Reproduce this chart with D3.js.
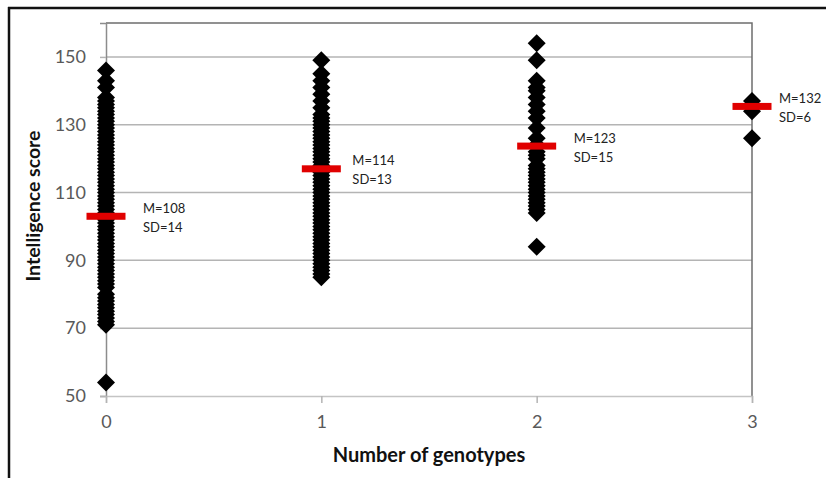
<!DOCTYPE html>
<html>
<head>
<meta charset="utf-8">
<script src="https://cdn.jsdelivr.net/npm/d3@7"></script>
<style>
  html, body { margin: 0; padding: 0; background: #fff; }
  svg { display: block; font-family: Lato, "Open Sans", sans-serif; }
</style>
</head>
<body>
<div id="chart"></div>
<script>
// ---- Data ----
const genotypes = [0, 1, 2, 3];

const scores0 = [54,
  71, 72, 73, 74, 75, 76, 77, 78, 79, 80, 82, 83, 84, 85, 86, 87, 88, 89, 90,
  91, 92, 93, 94, 95, 96, 97, 98, 99, 100, 101, 102, 103, 104, 105, 106, 107, 108, 109, 110,
  111, 112, 113, 114, 115, 116, 117, 118, 119, 120, 121, 122, 123, 124, 125, 126, 127, 128, 129, 130,
  131, 132, 133, 134, 135, 136, 137, 138, 141, 143, 146];
const scores1 = [85, 86, 87, 88, 89, 90, 91, 92, 93, 94, 95, 96, 97, 98, 99, 100,
  101, 102, 103, 104, 105, 106, 107, 108, 109, 110, 111, 112, 113, 114, 115, 116, 117, 118, 119, 120,
  121, 122, 123, 124, 125, 126, 127, 128, 129, 130, 131, 132, 133,
  135, 137, 139, 141, 143, 145, 149];
const scores2 = [94, 104, 105, 106, 107, 108, 109, 110, 111, 112, 113, 114, 115, 116, 117, 118,
  120, 121, 122, 124, 126, 129, 132, 134, 136, 138, 140, 141, 143, 149, 154];
const scores3 = [126, 134, 137];
const scoresByGroup = [scores0, scores1, scores2, scores3];

const meanLabels = [108, 114, 123, 132];
const sdLabels = [14, 13, 15, 6];
const meanBarAt = [103, 117, 123.7, 135.4];   // where the red bars sit in the picture

const yTicks = [50, 70, 90, 110, 130, 150];
const xTicks = [0, 1, 2, 3];

// ---- Layout ----
const W = 826, H = 478;
const plot = { left: 106, top: 23, right: 752, bottom: 396 };
const labelDx = [37, 31, 37, 27];   // gap from column to its M/SD note

const svg = d3.select('#chart').append('svg')
  .attr('width', W).attr('height', H);

// outer frame (top + left edges only visible)
svg.append('line').attr('x1', 8).attr('x2', W).attr('y1', 8).attr('y2', 8)
  .attr('stroke', '#111').attr('stroke-width', 2.5);
svg.append('line').attr('x1', 9).attr('x2', 9).attr('y1', 7).attr('y2', H)
  .attr('stroke', '#111').attr('stroke-width', 2.5);

const x = d3.scaleLinear().domain([0, 3]).range([plot.left, plot.right]);
const y = d3.scaleLinear().domain([50, 160]).range([plot.bottom, plot.top]);

// ---- Grid ----
svg.append('g')
  .selectAll('line').data(yTicks.filter(d => d > 50)).join('line')
  .attr('x1', plot.left).attr('x2', plot.right)
  .attr('y1', d => y(d)).attr('y2', d => y(d))
  .attr('stroke', '#b4b4b4').attr('stroke-width', 1.5);

// plot-area border top/right
svg.append('path')
  .attr('d', `M${plot.left},${y(160)}H${x(3)}V${y(50)}`)
  .attr('fill', 'none').attr('stroke', '#6e6e6e').attr('stroke-width', 1.5);

// ---- Axes ----
const yAxis = svg.append('g')
  .attr('transform', `translate(${plot.left},0)`)
  .call(d3.axisLeft(y).tickValues(yTicks).tickSize(6).tickPadding(14));
yAxis.select('.domain').attr('stroke', '#8c8c8c').attr('stroke-width', 1.5);
yAxis.selectAll('.tick line').attr('stroke', '#b4b4b4').attr('stroke-width', 1.5);
yAxis.selectAll('text').attr('fill', '#595959').attr('font-size', '18px')
  .attr('font-family', 'Lato, sans-serif');

const xAxis = svg.append('g')
  .attr('transform', `translate(0,${plot.bottom})`)
  .call(d3.axisBottom(x).tickValues(xTicks).tickFormat(d3.format('d')).tickSize(7).tickPadding(12));
xAxis.select('.domain').attr('stroke', '#c4c4c4').attr('stroke-width', 1.5);
xAxis.selectAll('.tick line').attr('stroke', '#b4b4b4').attr('stroke-width', 1.5);
xAxis.selectAll('text').attr('fill', '#595959').attr('font-size', '18px')
  .attr('font-family', 'Lato, sans-serif');

// ---- Points ----
const diamond = 'M0,-9L9,0L0,9L-9,0Z';
const points = scoresByGroup.flatMap((arr, i) => arr.map(v => ({ g: genotypes[i], v })));

svg.append('g')
  .selectAll('path').data(points).join('path')
  .attr('d', diamond)
  .attr('transform', d => `translate(${x(d.g)},${y(d.v)})`)
  .attr('fill', '#000');

// ---- Mean bars ----
svg.append('g')
  .selectAll('rect').data(genotypes).join('rect')
  .attr('x', g => x(g) - 19.5)
  .attr('y', (g, i) => y(meanBarAt[i]) - 3.5)
  .attr('width', 39).attr('height', 7)
  .attr('fill', '#e00000');

// ---- Annotations ----
const ann = svg.append('g').attr('font-size', '13px').attr('fill', '#222');
genotypes.forEach((g, i) => {
  const tx = x(g) + labelDx[i];
  const ty = y(meanBarAt[i]);
  ann.append('text').attr('x', tx).attr('y', ty - 8).attr('dy', '0.35em').text(`M=${meanLabels[i]}`);
  ann.append('text').attr('x', tx).attr('y', ty + 11).attr('dy', '0.35em').text(`SD=${sdLabels[i]}`);
});

// ---- Axis titles ----
svg.append('text')
  .attr('x', (plot.left + plot.right) / 2).attr('y', 455)
  .attr('dy', '0.35em').attr('text-anchor', 'middle')
  .attr('font-size', '20px').attr('font-weight', 'bold').attr('fill', '#111')
  .text('Number of genotypes');

svg.append('text')
  .attr('transform', `translate(33,206) rotate(-90)`)
  .attr('dy', '0.35em').attr('text-anchor', 'middle')
  .attr('font-size', '19.5px').attr('font-weight', 'bold').attr('fill', '#111')
  .text('Intelligence score');
</script>
</body>
</html>
